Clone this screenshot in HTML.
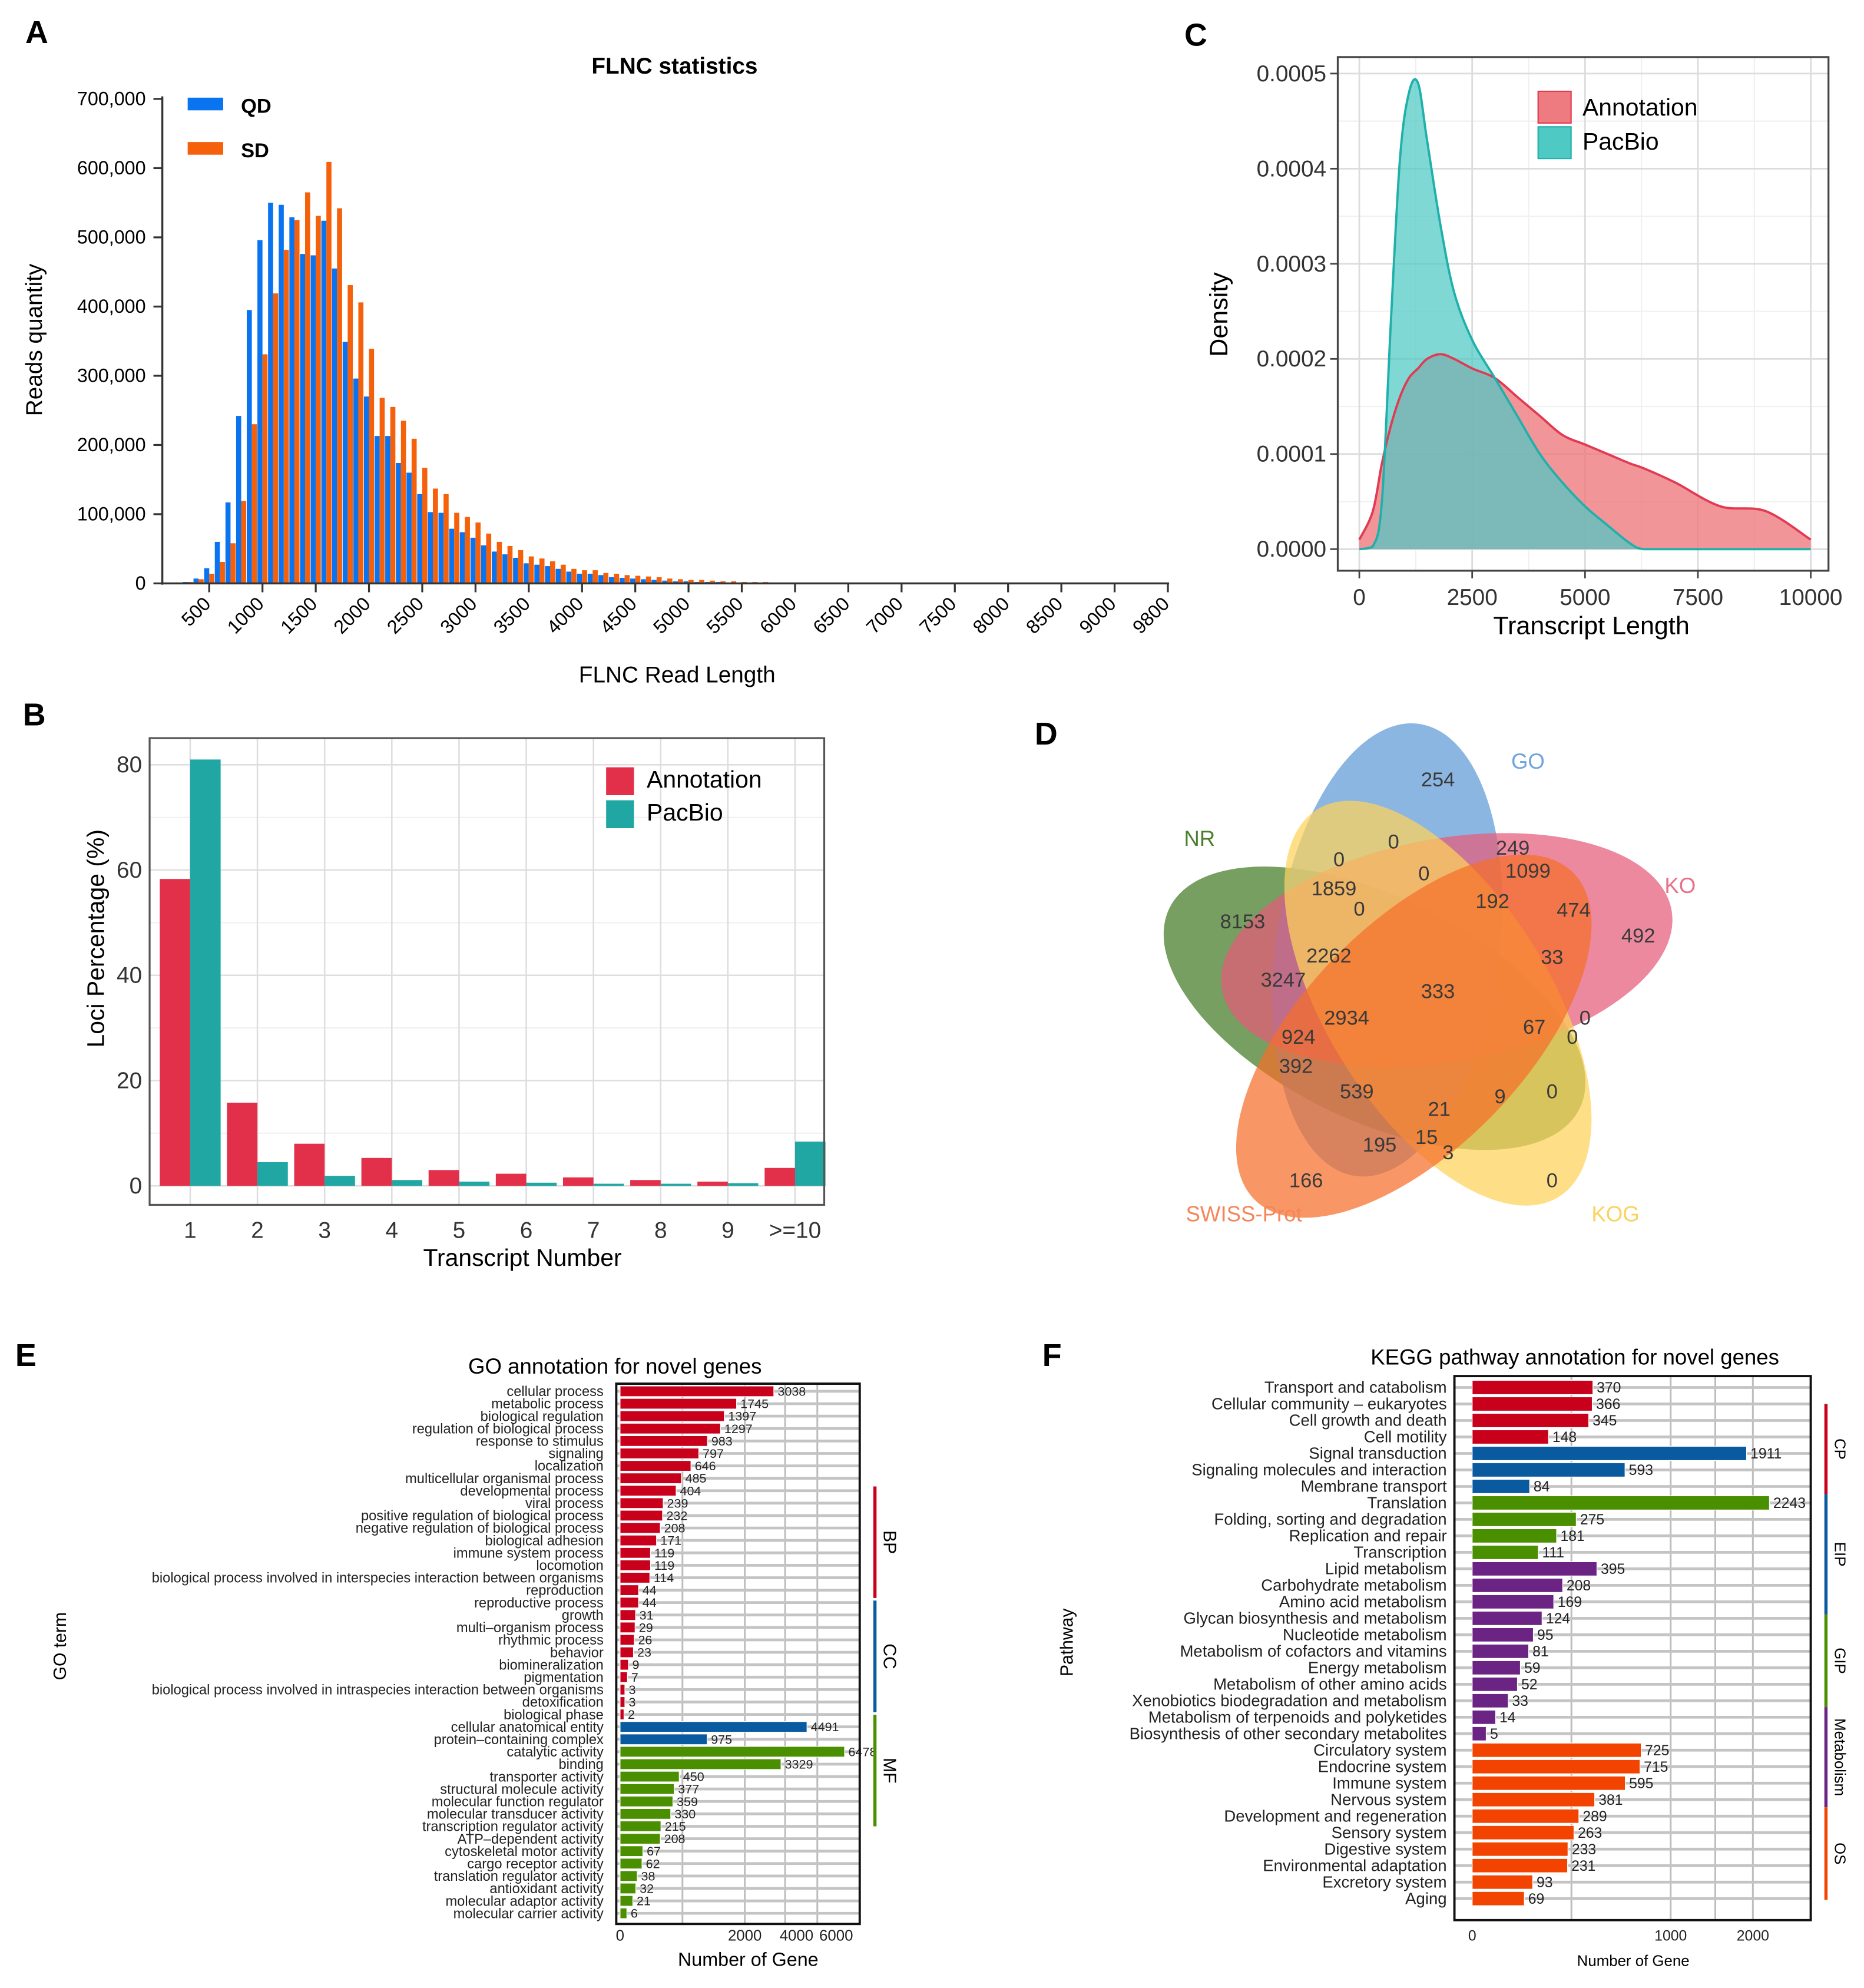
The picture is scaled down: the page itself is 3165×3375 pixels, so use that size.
<!DOCTYPE html>
<html><head><meta charset="utf-8">
<style>
html,body{margin:0;padding:0;background:#fff;}
svg{display:block;font-family:"Liberation Sans",Arial,sans-serif;}
</style></head>
<body>
<svg id="fig" width="3165" height="3375" viewBox="0 0 1470 1567.5" preserveAspectRatio="none" xmlns="http://www.w3.org/2000/svg">
<rect x="0" y="0" width="1470" height="1568" fill="#fff"/>
<g id="gA"></g>
<g id="gB"></g>
<g id="gC"></g>
<g id="gD"></g>
<g id="gE"></g>
<g id="gF"></g>
<text x="20" y="34" font-size="25" font-weight="bold">A</text>
<text x="18" y="572" font-size="25" font-weight="bold">B</text>
<text x="934" y="36" font-size="25" font-weight="bold">C</text>
<text x="816" y="587" font-size="25" font-weight="bold">D</text>
<text x="12" y="1077" font-size="25" font-weight="bold">E</text>
<text x="822" y="1077" font-size="25" font-weight="bold">F</text>
</svg>
<script>
// ---------- Panel A data ----------
const aBins = [200,300,400,500,600,700,800,900,1000,1100,1200,1300,1400,1500,1600,1700,1800,1900,2000,2100,2200,2300,2400,2500,2600,2700,2800,2900,3000,3100,3200,3300,3400,3500,3600,3700,3800,3900,4000,4100,4200,4300,4400,4500,4600,4700,4800,4900,5000,5100,5200,5300,5400,5500,5600,5700,5800,5900,6000];
const aQD = [1,2,7,22,60,117,242,395,496,550,547,529,476,474,524,455,349,296,270,213,213,174,160,129,103,102,79,74,66,55,46,42,37,29,27,25,21,17,14,14,12,9,8,7,6,5,4,3,3,2,2,2,1,1,1,1,1,0.5,0.5];
const aSD = [1,2,6,14,31,58,119,230,331,419,482,525,565,531,609,542,431,406,339,268,255,235,209,167,137,129,102,96,88,72,60,54,48,39,36,32,27,21,19,19,15,14,12,11,10,9,7,6,5,5,4,3,3,2,2,2,1,1,1];
const aYTicks = [0,100000,200000,300000,400000,500000,600000,700000];
const aYLabels = ["0","100,000","200,000","300,000","400,000","500,000","600,000","700,000"];
const aXTicks = [500,1000,1500,2000,2500,3000,3500,4000,4500,5000,5500,6000,6500,7000,7500,8000,8500,9000,9500];
const aXLabels = ["500","1000","1500","2000","2500","3000","3500","4000","4500","5000","5500","6000","6500","7000","7500","8000","8500","9000","9800"];
// ---------- Panel B data ----------
const bCats = ["1","2","3","4","5","6","7","8","9",">=10"];
const bAnn = [58.3,15.8,8.0,5.3,3.0,2.3,1.6,1.1,0.8,3.4];
const bPac = [81.0,4.5,1.9,1.1,0.8,0.6,0.4,0.4,0.5,8.4];
const bYTicks = [0,20,40,60,80];
// ---------- Panel C data ----------
const cX = [0,300,500,700,900,1100,1300,1500,1800,2100,2500,3000,3500,4000,4500,5000,5500,6000,6300,7000,8000,9000,10000];
const cPac = [0,0.000003,0.00005,0.00024,0.00041,0.00048,0.00049,0.00043,0.00034,0.00027,0.00022,0.00018,0.00014,0.0001,0.00007,0.000045,0.000025,0.000006,0,0,0,0,0];
const cAnn = [0.00001,0.00004,0.00009,0.00013,0.00016,0.00018,0.00019,0.0002,0.000205,0.0002,0.00019,0.00018,0.00016,0.00014,0.00012,0.00011,0.0001,0.00009,0.000085,0.00007,0.000045,0.00004,0.00001];
const cXTicks = [0,2500,5000,7500,10000];
const cYTicks = [0,0.0001,0.0002,0.0003,0.0004,0.0005];
const cYLabels = ["0.0000","0.0001","0.0002","0.0003","0.0004","0.0005"];
// ---------- Panel E data ----------
const eTerms = ["cellular process","metabolic process","biological regulation","regulation of biological process","response to stimulus","signaling","localization","multicellular organismal process","developmental process","viral process","positive regulation of biological process","negative regulation of biological process","biological adhesion","immune system process","locomotion","biological process involved in interspecies interaction between organisms","reproduction","reproductive process","growth","multi\u2013organism process","rhythmic process","behavior","biomineralization","pigmentation","biological process involved in intraspecies interaction between organisms","detoxification","biological phase","cellular anatomical entity","protein\u2013containing complex","catalytic activity","binding","transporter activity","structural molecule activity","molecular function regulator","molecular transducer activity","transcription regulator activity","ATP\u2013dependent activity","cytoskeletal motor activity","cargo receptor activity","translation regulator activity","antioxidant activity","molecular adaptor activity","molecular carrier activity"];
const eValues = [3038,1745,1397,1297,983,797,646,485,404,239,232,208,171,119,119,114,44,44,31,29,26,23,9,7,3,3,2,4491,975,6478,3329,450,377,359,330,215,208,67,62,38,32,21,6];
const eGroups = ["BP","BP","BP","BP","BP","BP","BP","BP","BP","BP","BP","BP","BP","BP","BP","BP","BP","BP","BP","BP","BP","BP","BP","BP","BP","BP","BP","CC","CC","MF","MF","MF","MF","MF","MF","MF","MF","MF","MF","MF","MF","MF","MF"];
const eXTicks = [0,2000,4000,6000];
const eGrid = [500,2000,3500,5000];
// ---------- Panel F data ----------
const fPaths = ["Transport and catabolism","Cellular community \u2013 eukaryotes","Cell growth and death","Cell motility","Signal transduction","Signaling molecules and interaction","Membrane transport","Translation","Folding, sorting and degradation","Replication and repair","Transcription","Lipid metabolism","Carbohydrate metabolism","Amino acid metabolism","Glycan biosynthesis and metabolism","Nucleotide metabolism","Metabolism of cofactors and vitamins","Energy metabolism","Metabolism of other amino acids","Xenobiotics biodegradation and metabolism","Metabolism of terpenoids and polyketides","Biosynthesis of other secondary metabolites","Circulatory system","Endocrine system","Immune system","Nervous system","Development and regeneration","Sensory system","Digestive system","Environmental adaptation","Excretory system","Aging"];
const fValues = [370,366,345,148,1911,593,84,2243,275,181,111,395,208,169,124,95,81,59,52,33,14,5,725,715,595,381,289,263,233,231,93,69];
const fGroups = ["CP","CP","CP","CP","EIP","EIP","EIP","GIP","GIP","GIP","GIP","Metabolism","Metabolism","Metabolism","Metabolism","Metabolism","Metabolism","Metabolism","Metabolism","Metabolism","Metabolism","Metabolism","OS","OS","OS","OS","OS","OS","OS","OS","OS","OS"];
const fXTicks = [0,1000,2000];
const fGrid = [250,1000,1500,2000];
// ---------- Panel D data ----------
const dSets = ["NR","GO","KO","KOG","SWISS-Prot"];
const dCounts = [8153,254,492,0,166,0,0,1859,0,2262,3247,0,249,1099,192,474,33,0,0,67,9,0,21,15,3,195,539,392,924,2934,333];

const NS="http://www.w3.org/2000/svg";
function mk(parent, tag, attrs, txt){
  const el=document.createElementNS(NS,tag);
  for(const k in attrs) el.setAttribute(k,attrs[k]);
  if(txt!==undefined) el.textContent=txt;
  parent.appendChild(el);
  return el;
}
let el;
// ================= PANEL A =================
(function(){
  const g=document.getElementById('gA');
  const xA=v=>165+(v-500)*42/500;
  const yA=v=>460-v/700000*382;
  const bw=4.0;
  el=mk(g,'text',{x:532,y:58,'font-size':18,'font-weight':'bold','text-anchor':'middle'},'FLNC statistics');
  
  
  for(let i=0;i<aBins.length;i++){
    el=mk(g,'rect',{x:xA(aBins[i])-bw,y:yA(aQD[i]*1000),width:bw,height:460-yA(aQD[i]*1000),fill:'#0a74f0'});
    
    
    el=mk(g,'rect',{x:xA(aBins[i]),y:yA(aSD[i]*1000),width:bw,height:460-yA(aSD[i]*1000),fill:'#f5600a'});
    
    
  }
  el=mk(g,'line',{x1:128,y1:76,x2:128,y2:461,stroke:'#333','stroke-width':1.6});
  
  
  el=mk(g,'line',{x1:127,y1:460,x2:922,y2:460,stroke:'#333','stroke-width':1.6});
  
  
  for(let i=0;i<aYTicks.length;i++){
    const y=yA(aYTicks[i]);
    mk(g,'line',{x1:121,y1:y,x2:128,y2:y,stroke:'#333','stroke-width':1.5});
    el=mk(g,'text',{x:115,y:y+5,'font-size':15,'text-anchor':'end'},aYLabels[i]);
    
    
  }
  for(let i=0;i<aXTicks.length;i++){
    const x=xA(aXTicks[i]);
    mk(g,'line',{x1:x,y1:460,x2:x,y2:467,stroke:'#333','stroke-width':1.5});
    el=mk(g,'text',{x:x+2,y:477,'font-size':15,'text-anchor':'end',transform:`rotate(-45 ${x+2} 477)`},aXLabels[i]);
    
    
  }
  el=mk(g,'text',{x:534,y:538,'font-size':18,'text-anchor':'middle'},'FLNC Read Length');
  
  
  el=mk(g,'text',{x:33,y:268,'font-size':18,'text-anchor':'middle',transform:'rotate(-90 33 268)'},'Reads quantity');
  
  
  el=mk(g,'rect',{x:148,y:77,width:28,height:10,fill:'#0a74f0'});
  
  
  el=mk(g,'text',{x:190,y:89,'font-size':16,'font-weight':'bold'},'QD');
  
  
  el=mk(g,'rect',{x:148,y:112,width:28,height:10,fill:'#f5600a'});
  
  
  el=mk(g,'text',{x:190,y:124,'font-size':16,'font-weight':'bold'},'SD');
  
  
})();
// ================= PANEL B =================
(function(){
  const g=document.getElementById('gB');
  const L=118,R=650,T=582,Bt=950;
  const xB=i=>150+i*53;
  const yB=v=>935-v/80*332;
  mk(g,'rect',{x:L,y:T,width:R-L,height:Bt-T,fill:'#fff'});
  for(let v=10;v<=90;v+=20){ if(yB(v)>T) mk(g,'line',{x1:L,y1:yB(v),x2:R,y2:yB(v),stroke:'#f0f0f0','stroke-width':1}); }
  for(const v of bYTicks) mk(g,'line',{x1:L,y1:yB(v),x2:R,y2:yB(v),stroke:'#dedede','stroke-width':1.2});
  for(let i=0;i<bCats.length;i++) mk(g,'line',{x1:xB(i),y1:T,x2:xB(i),y2:Bt,stroke:'#dedede','stroke-width':1.2});
  for(let i=0;i<bCats.length;i++){
    el=mk(g,'rect',{x:xB(i)-24,y:yB(bAnn[i]),width:24,height:935-yB(bAnn[i]),fill:'#e3304a'});
    
    
    el=mk(g,'rect',{x:xB(i),y:yB(bPac[i]),width:24,height:935-yB(bPac[i]),fill:'#20a7a3'});
    
    
    el=mk(g,'text',{x:xB(i),y:976,'font-size':18,'text-anchor':'middle',fill:'#333'},bCats[i]);
    
    
  }
  el=mk(g,'rect',{x:L,y:T,width:R-L,height:Bt-T,fill:'none',stroke:'#555','stroke-width':1.5});
  
  
  for(const v of bYTicks){
    el=mk(g,'text',{x:112,y:yB(v)+6,'font-size':18,'text-anchor':'end',fill:'#333'},String(v));
    
    
  }
  el=mk(g,'text',{x:412,y:998,'font-size':19,'text-anchor':'middle'},'Transcript  Number');
  
  
  el=mk(g,'text',{x:82,y:740,'font-size':19,'text-anchor':'middle',transform:'rotate(-90 82 740)'},'Loci  Percentage (%)');
  
  
  el=mk(g,'rect',{x:478,y:605,width:22,height:22,fill:'#e3304a'});
  
  
  el=mk(g,'text',{x:510,y:621,'font-size':19},'Annotation');
  
  
  el=mk(g,'rect',{x:478,y:631,width:22,height:22,fill:'#20a7a3'});
  
  
  el=mk(g,'text',{x:510,y:647,'font-size':19},'PacBio');
  
  
})();
// ================= PANEL C =================
(function(){
  const g=document.getElementById('gC');
  const L=1055,R=1442,T=45,Bt=450;
  const xC=v=>1072+v/10000*356;
  const yC=v=>433-v/0.0005*375;
  mk(g,'rect',{x:L,y:T,width:R-L,height:Bt-T,fill:'#fff'});
  for(let v=1250;v<10000;v+=2500) mk(g,'line',{x1:xC(v),y1:T,x2:xC(v),y2:Bt,stroke:'#f0f0f0','stroke-width':1});
  for(let i=0;i<5;i++){const v=0.00005+i*0.0001; mk(g,'line',{x1:L,y1:yC(v),x2:R,y2:yC(v),stroke:'#f0f0f0','stroke-width':1});}
  for(const v of cXTicks) mk(g,'line',{x1:xC(v),y1:T,x2:xC(v),y2:Bt,stroke:'#dcdcdc','stroke-width':1.3});
  for(const v of cYTicks) mk(g,'line',{x1:L,y1:yC(v),x2:R,y2:yC(v),stroke:'#dcdcdc','stroke-width':1.3});
  function smooth(xs,ys){
    const p=xs.map((x,i)=>[xC(x),yC(ys[i])]);
    let d=`M${p[0][0]},${p[0][1]}`;
    for(let i=0;i<p.length-1;i++){
      const p0=p[Math.max(0,i-1)],p1=p[i],p2=p[i+1],p3=p[Math.min(p.length-1,i+2)];
      const c1=[p1[0]+(p2[0]-p0[0])/6,p1[1]+(p2[1]-p0[1])/6];
      const c2=[p2[0]-(p3[0]-p1[0])/6,p2[1]-(p3[1]-p1[1])/6];
      d+=` C${c1[0]},${Math.min(c1[1],433)} ${c2[0]},${Math.min(c2[1],433)} ${p2[0]},${p2[1]}`;
    }
    return d;
  }
  const dA=smooth(cX,cAnn), dP=smooth(cX,cPac);
  const base=` L${xC(10000)},${yC(0)} L${xC(0)},${yC(0)} Z`;
  el=mk(g,'path',{d:dA+base,fill:'#ee7b80','fill-opacity':0.8});
  
  
  el=mk(g,'path',{d:dP+base,fill:'#4ec9c3','fill-opacity':0.72});
  
  
  el=mk(g,'path',{d:dA,fill:'none',stroke:'#e13a52','stroke-width':1.8});
  
  
  el=mk(g,'path',{d:dP,fill:'none',stroke:'#1fb0ab','stroke-width':1.8});
  
  
  el=mk(g,'rect',{x:L,y:T,width:R-L,height:Bt-T,fill:'none',stroke:'#444','stroke-width':1.5});
  
  
  for(let i=0;i<cYTicks.length;i++){
    const y=yC(cYTicks[i]);
    mk(g,'line',{x1:L-6,y1:y,x2:L,y2:y,stroke:'#444','stroke-width':1.3});
    el=mk(g,'text',{x:L-9,y:y+6,'font-size':18,'text-anchor':'end',fill:'#333'},cYLabels[i]);
    
    
  }
  for(const v of cXTicks){
    const x=xC(v);
    mk(g,'line',{x1:x,y1:Bt,x2:x,y2:Bt+6,stroke:'#444','stroke-width':1.3});
    el=mk(g,'text',{x:x,y:477,'font-size':18,'text-anchor':'middle',fill:'#333'},String(v));
    
    
  }
  el=mk(g,'text',{x:1255,y:500,'font-size':20,'text-anchor':'middle'},'Transcript Length');
  
  
  el=mk(g,'text',{x:968,y:248,'font-size':20,'text-anchor':'middle',transform:'rotate(-90 968 248)'},'Density');
  
  
  el=mk(g,'rect',{x:1213,y:72,width:26,height:25,fill:'#ee7b80',stroke:'#e13a52','stroke-width':1});
  
  
  el=mk(g,'text',{x:1248,y:91,'font-size':19},'Annotation');
  
  
  el=mk(g,'rect',{x:1213,y:100,width:26,height:25,fill:'#4ec9c3',stroke:'#1fb0ab','stroke-width':1});
  
  
  el=mk(g,'text',{x:1248,y:118,'font-size':19},'PacBio');
  
  
})();
// ================= PANEL D (Venn) =================
(function(){
  const g=document.getElementById('gD');
  const ell=[
    {cx:1084,cy:795,a:26,fill:'#4a7f2c',op:0.75},
    {cx:1094,cy:749,a:98,fill:'#5b97d6',op:0.7},
    {cx:1141,cy:749,a:-10,fill:'#e45c78',op:0.72},
    {cx:1134,cy:791,a:58,fill:'#fdd35a',op:0.72},
    {cx:1115,cy:817,a:-46,fill:'#f56f2a',op:0.72}
  ];
  const order=[0,1,2,3,4];
  for(const i of order){
    const e=ell[i];
    el=mk(g,'ellipse',{cx:e.cx,cy:e.cy,rx:180,ry:88,fill:e.fill,'fill-opacity':e.op,transform:`rotate(${e.a} ${e.cx} ${e.cy})`});
    
    
  }
  const setLbl=[[946,667,'#4a7f2c'],[1205,606,'#6fa4dc'],[1325,704,'#e8708a'],[1274,963,'#fbd35c'],[981,963,'#f4865a']];
  for(let i=0;i<5;i++){
    el=mk(g,'text',{x:setLbl[i][0],y:setLbl[i][1],'font-size':17,'text-anchor':'middle',fill:setLbl[i][2]},dSets[i]);
    
    
  }
  const pos=[[980,732],[1134,620],[1292,743],[1224,936],[1030,936],[1099,669],[1056,683],[1052,706],[1072,722],[1048,759],[1012,778],[1123,694],[1193,674],[1205,692],[1177,716],[1241,723],[1224,760],[1250,808],[1240,823],[1210,815],[1183,870],[1224,866],[1135,880],[1125,902],[1142,914],[1088,908],[1070,866],[1022,846],[1024,823],[1062,808],[1134,787]];
  for(let i=0;i<dCounts.length;i++){
    el=mk(g,'text',{x:pos[i][0],y:pos[i][1],'font-size':16,'text-anchor':'middle',fill:'#3a3a3a'},String(dCounts[i]));
    
    
  }
})();
// ================= PANEL E =================
(function(){
  const g=document.getElementById('gE');
  const L=486,R=678,T=1091,Bt=1517;
  const x0=489,k=2.2;
  const xE=v=>x0+Math.sqrt(v)*k;
  const rowY=i=>1097+i*9.8;
  const col={BP:'#c8001b',CC:'#0a5aa0',MF:'#4a8f00'};
  el=mk(g,'text',{x:485,y:1083,'font-size':17,'text-anchor':'middle'},'GO annotation for novel genes');
  
  
  for(const v of eGrid) mk(g,'line',{x1:xE(v),y1:T,x2:xE(v),y2:Bt,stroke:'#bdbdbd','stroke-width':1.4});
  for(let i=0;i<eTerms.length;i++){
    const y=rowY(i);
    mk(g,'line',{x1:L,y1:y,x2:R,y2:y,stroke:'#c4c4c4','stroke-width':2.2});
    el=mk(g,'rect',{x:x0,y:y-4.2,width:Math.max(1,xE(eValues[i])-x0),height:8.4,fill:col[eGroups[i]],stroke:'#fff','stroke-width':0.6});
    
    
    el=mk(g,'text',{x:xE(eValues[i])+3,y:y+3.5,'font-size':10,fill:'#222'},String(eValues[i]));
    
    
    el=mk(g,'text',{x:476,y:y+3.8,'font-size':11,'text-anchor':'end',fill:'#222'},eTerms[i]);
    
    
  }
  el=mk(g,'rect',{x:L,y:T,width:R-L,height:Bt-T,fill:'none',stroke:'#111','stroke-width':1.8});
  
  
  for(const v of eXTicks){
    el=mk(g,'text',{x:xE(v),y:1530,'font-size':12,'text-anchor':'middle',fill:'#222'},String(v));
    
    
  }
  el=mk(g,'text',{x:590,y:1550,'font-size':15,'text-anchor':'middle'},'Number of Gene');
  
  
  el=mk(g,'text',{x:52,y:1298,'font-size':14,'text-anchor':'middle',transform:'rotate(-90 52 1298)'},'GO term');
  
  
  const br=[['BP',1172,1260,'#c8001b'],['CC',1262,1350,'#0a5aa0'],['MF',1352,1440,'#4a8f00']];
  for(const b of br){
    el=mk(g,'line',{x1:690,y1:b[1],x2:690,y2:b[2],stroke:b[3],'stroke-width':2.5});
    
    
    const cy=(b[1]+b[2])/2;
    el=mk(g,'text',{x:697,y:cy,'font-size':14,'text-anchor':'middle',transform:`rotate(90 697 ${cy})`},b[0]);
    
    
  }
})();
// ================= PANEL F =================
(function(){
  const g=document.getElementById('gF');
  const L=1147,R=1428,T=1085,Bt=1514;
  const x0=1161,k=4.95;
  const xF=v=>x0+Math.sqrt(v)*k;
  const rowY=i=>1094+i*13.0;
  const col={CP:'#c8001b',EIP:'#0a5aa0',GIP:'#4a8f00',Metabolism:'#6b2483',OS:'#f24300'};
  el=mk(g,'text',{x:1242,y:1076,'font-size':17,'text-anchor':'middle'},'KEGG pathway annotation for novel genes');
  
  
  for(const v of fGrid) mk(g,'line',{x1:xF(v),y1:T,x2:xF(v),y2:Bt,stroke:'#bdbdbd','stroke-width':1.4});
  for(let i=0;i<fPaths.length;i++){
    const y=rowY(i);
    mk(g,'line',{x1:L,y1:y,x2:R,y2:y,stroke:'#c4c4c4','stroke-width':2.2});
    el=mk(g,'rect',{x:x0,y:y-5.6,width:xF(fValues[i])-x0,height:11.2,fill:col[fGroups[i]],stroke:'#fff','stroke-width':0.6});
    
    
    el=mk(g,'text',{x:xF(fValues[i])+3,y:y+4,'font-size':11.5,fill:'#222'},String(fValues[i]));
    
    
    el=mk(g,'text',{x:1141,y:y+4.3,'font-size':12.8,'text-anchor':'end',fill:'#222'},fPaths[i]);
    
    
  }
  el=mk(g,'rect',{x:L,y:T,width:R-L,height:Bt-T,fill:'none',stroke:'#111','stroke-width':1.8});
  
  
  for(const v of fXTicks){
    el=mk(g,'text',{x:xF(v),y:1530,'font-size':11.5,'text-anchor':'middle',fill:'#222'},String(v));
    
    
  }
  el=mk(g,'text',{x:1288,y:1550,'font-size':12,'text-anchor':'middle'},'Number of Gene');
  
  
  el=mk(g,'text',{x:846,y:1295,'font-size':14,'text-anchor':'middle',transform:'rotate(-90 846 1295)'},'Pathway');
  
  
  const br=[['CP',1107,1178,'#c8001b'],['EIP',1178,1273,'#0a5aa0'],['GIP',1273,1346,'#4a8f00'],['Metabolism',1346,1425,'#6b2483'],['OS',1425,1498,'#f24300']];
  for(const b of br){
    el=mk(g,'line',{x1:1440,y1:b[1],x2:1440,y2:b[2],stroke:b[3],'stroke-width':2.5});
    
    
    const cy=(b[1]+b[2])/2;
    el=mk(g,'text',{x:1447,y:cy,'font-size':12,'text-anchor':'middle',transform:`rotate(90 1447 ${cy})`},b[0]);
    
    
  }
})();
</script>
</body></html>
